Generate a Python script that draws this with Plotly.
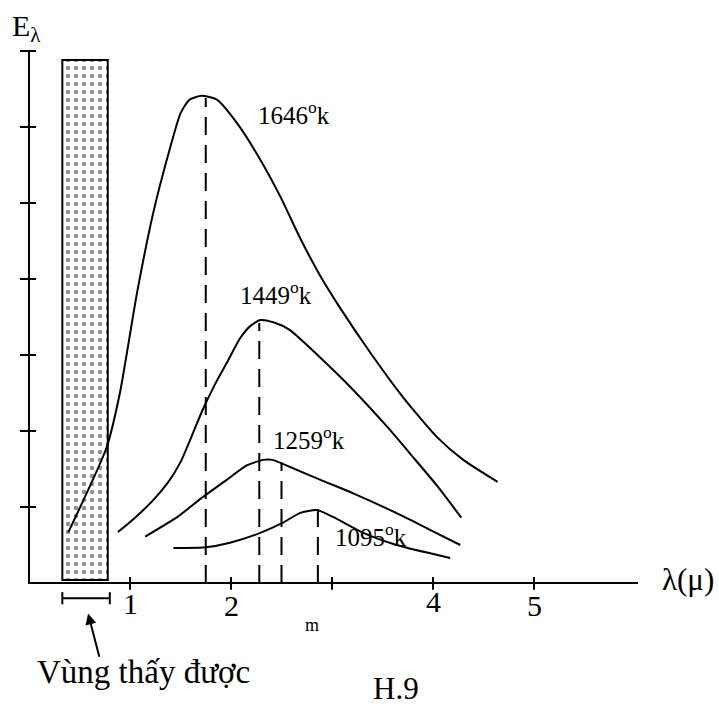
import plotly.graph_objects as go

# ---- data ----
LAM_1646 = [0.39, 0.77, 0.90, 1.07, 1.23, 1.40, 1.50, 1.59, 1.71, 1.86, 2.06, 2.29, 2.49, 2.68, 2.88, 3.08, 3.38, 3.70, 4.04, 4.30, 4.64]
E_1646 = [0.67, 1.79, 2.50, 3.82, 4.87, 5.74, 6.18, 6.36, 6.41, 6.36, 6.05, 5.57, 5.08, 4.55, 4.05, 3.62, 3.03, 2.45, 1.92, 1.62, 1.33]

LAM_1449 = [0.88, 1.05, 1.23, 1.38, 1.50, 1.61, 1.72, 1.84, 1.96, 2.09, 2.19, 2.29, 2.42, 2.58, 2.88, 3.21, 3.55, 3.80, 4.04, 4.28]
E_1449 = [0.67, 0.86, 1.09, 1.33, 1.59, 1.93, 2.28, 2.61, 2.90, 3.22, 3.38, 3.46, 3.43, 3.33, 2.97, 2.54, 2.05, 1.66, 1.28, 0.86]

LAM_1259 = [1.15, 1.47, 1.72, 1.96, 2.16, 2.32, 2.41, 2.58, 2.88, 3.21, 3.67, 3.97, 4.27]
E_1259 = [0.61, 0.87, 1.13, 1.36, 1.55, 1.62, 1.62, 1.53, 1.36, 1.18, 0.90, 0.70, 0.50]

LAM_1095 = [1.43, 1.75, 1.99, 2.29, 2.51, 2.68, 2.85, 3.01, 3.31, 3.64, 4.17]
E_1095 = [0.46, 0.47, 0.53, 0.66, 0.79, 0.92, 0.96, 0.87, 0.66, 0.50, 0.33]

CURVE_LABELS = ["1646<sup>o</sup>k", "1449<sup>o</sup>k", "1259<sup>o</sup>k", "1095<sup>o</sup>k"]
PEAK_LAM = [1.75, 2.28, 2.50, 2.86]
PEAK_E = [6.38, 3.42, 1.59, 0.99]

X_TICKS = [1, 2, 3, 4, 5]
X_TICK_LABELS = ["1", "2", "", "4", "5"]
Y_TICKS = [1, 2, 3, 4, 5, 6, 7]

VISIBLE_BAND = [0.33, 0.78]      # stippled band (lambda range)
VISIBLE_BAND_E = [0.04, 6.88]
VISIBLE_BRACKET = [0.33, 0.80]

X_AXIS_END = 6.03
Y_AXIS_END = 7.0

FONT = "Liberation Serif, Times New Roman, serif"

fig = go.Figure()

# stippled visible band
fig.add_trace(go.Bar(
    x=[(VISIBLE_BAND[0] + VISIBLE_BAND[1]) / 2],
    y=[VISIBLE_BAND_E[1] - VISIBLE_BAND_E[0]],
    base=[VISIBLE_BAND_E[0]],
    width=[VISIBLE_BAND[1] - VISIBLE_BAND[0]],
    marker=dict(color="white",
                line=dict(color="black", width=2),
                pattern=dict(shape=".", fgcolor="#222", bgcolor="white",
                             size=8, solidity=0.26)),
    hoverinfo="skip",
))

# axes
fig.add_trace(go.Scatter(x=[0, 0, X_AXIS_END], y=[Y_AXIS_END, 0, 0], mode="lines",
                         line=dict(color="black", width=2), hoverinfo="skip"))
# y ticks
ytx, yty = [], []
for t in Y_TICKS:
    ytx += [-0.09, 0.07, None]
    yty += [t, t, None]
fig.add_trace(go.Scatter(x=ytx, y=yty, mode="lines", line=dict(color="black", width=2), hoverinfo="skip"))
# x ticks
xtx, xty = [], []
for t in X_TICKS:
    xtx += [t, t, None]
    xty += [0.08, -0.09, None]
fig.add_trace(go.Scatter(x=xtx, y=xty, mode="lines", line=dict(color="black", width=2), hoverinfo="skip"))

# dashed peak lines
for lam, e in zip(PEAK_LAM, PEAK_E):
    fig.add_trace(go.Scatter(x=[lam, lam], y=[0, e], mode="lines",
                             line=dict(color="black", width=2, dash="18px,10px"), hoverinfo="skip"))

# curves
for xs, ys in [(LAM_1646, E_1646), (LAM_1449, E_1449), (LAM_1259, E_1259), (LAM_1095, E_1095)]:
    fig.add_trace(go.Scatter(x=xs, y=ys, mode="lines",
                             line=dict(color="black", width=2, shape="spline", smoothing=0.6),
                             hoverinfo="skip"))

# bracket for visible region
bx0, bx1 = VISIBLE_BRACKET
fig.add_trace(go.Scatter(x=[bx0, bx0, None, bx0, bx1, None, bx1, bx1],
                         y=[-0.12, -0.28, None, -0.20, -0.20, None, -0.12, -0.28],
                         mode="lines", line=dict(color="black", width=2), hoverinfo="skip"))

ann = []
def txt(x, y, s, size, **kw):
    d = dict(x=x, y=y, xref="x", yref="y", text=s, showarrow=False,
             font=dict(family=FONT, size=size, color="black"))
    d.update(kw)
    ann.append(d)

# curve labels
label_pos = [(2.62, 6.18), (2.45, 3.82), (2.77, 1.91), (3.39, 0.63)]
for (lx, ly), s in zip(label_pos, CURVE_LABELS):
    txt(lx, ly, s, 25)

# tick labels
tick_y = [-0.27, -0.30, -0.27, -0.24, -0.30]
for t, lab, ty in zip(X_TICKS, X_TICK_LABELS, tick_y):
    if lab:
        txt(t, ty, lab, 30)

txt(6.52, 0.05, "λ(μ)", 31)
txt(-0.02, 7.30, "E<sub>λ</sub>", 30)
txt(2.80, -0.55, "m", 18)
txt(1.13, -1.17, "Vùng thấy được", 33)
txt(3.63, -1.39, "H.9", 31)

# arrow
ann.append(dict(x=0.585, y=-0.40, xref="x", yref="y", ax=0.70, ay=-0.99, axref="x", ayref="y",
                text="", showarrow=True, arrowhead=2, arrowsize=1.1, arrowwidth=2, arrowcolor="black"))

fig.update_layout(
    width=719, height=706,
    margin=dict(l=0, r=0, t=0, b=0),
    paper_bgcolor="white", plot_bgcolor="white",
    showlegend=False,
    xaxis=dict(range=[-29 / 101, 690 / 101], visible=False, fixedrange=True),
    yaxis=dict(range=[-123 / 76, 583 / 76], visible=False, fixedrange=True),
    annotations=ann,
)

fig.write_html("out.html", config={"displayModeBar": False},
               post_script="document.body.style.margin='0px';document.body.style.overflow='hidden';")
